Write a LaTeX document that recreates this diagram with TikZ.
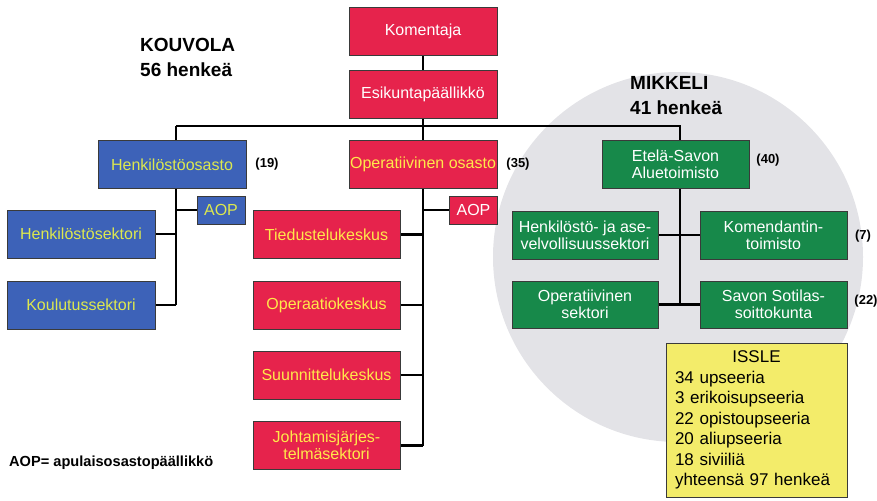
\documentclass[tikz,border=0pt]{standalone}
\usepackage{fontspec}
\setmainfont{Liberation Sans}
\usetikzlibrary{backgrounds}
\definecolor{cred}{HTML}{E6234C}
\definecolor{cblue}{HTML}{3D62B8}
\definecolor{cgreen}{HTML}{17894A}
\definecolor{cyelbox}{HTML}{F3EC6A}
\definecolor{ctxtY}{HTML}{FFE94A}
\definecolor{ctxtYG}{HTML}{DDE84E}
\definecolor{cgray}{HTML}{E3E3E7}
\definecolor{cedge}{HTML}{3A3A3A}
\begin{document}
\begin{tikzpicture}[x=1pt,y=-1pt,
 box/.style={draw=cedge,line width=0.8pt,minimum width=148pt,minimum height=48pt,inner sep=0pt,align=center,font=\fontsize{16}{17}\selectfont},
 redbox/.style={box,fill=cred,text=white},
 redboxY/.style={box,fill=cred,text=ctxtY},
 bluebox/.style={box,fill=cblue,text=ctxtYG},
 greenbox/.style={box,fill=cgreen,text=white,minimum width=146pt},
 aopbox/.style={box,minimum width=48pt,minimum height=28pt},
 conn/.style={line width=2.8pt,black},
 count/.style={inner sep=0pt,font=\bfseries\fontsize{13}{15}\selectfont},
 title/.style={inner sep=0pt,font=\bfseries\fontsize{19}{25}\selectfont,align=left}]
\useasboundingbox (0,0) rectangle (877,500);
% top
\node[redbox] (kom) at (423,31) {Komentaja};
\node[redbox] (esik) at (423,94) {Esikuntapäällikkö};
% departments
\node[bluebox] (hos) at (172,164.5) {Henkilöstöosasto};
\node[redboxY] (opos) at (423,164.5) {Operatiivinen osasto};
\node[greenbox,minimum width=147pt] (etela) at (675.5,164) {Etelä-Savon\\Aluetoimisto};
\node[aopbox,fill=cblue,text=ctxtYG] (aop1) at (221,210) {AOP};
\node[aopbox,fill=cred,text=white] (aop2) at (473.5,210) {AOP};
% Kouvola left
\node[bluebox] (hsek) at (81,234) {Henkilöstösektori};
\node[bluebox] (koul) at (81,305) {Koulutussektori};
% operative
\node[redboxY,minimum width=147pt] (tied) at (326.5,234.5) {Tiedustelukeskus};
\node[redboxY,minimum width=147pt] (oper) at (326.5,305) {Operaatiokeskus};
\node[redboxY,minimum width=147pt] (suun) at (326.5,375) {Suunnittelukeskus};
\node[redboxY,minimum width=147pt] (joht) at (326.5,445.5) {Johtamisjärjes-\\telmäsektori};
% Mikkeli
\node[greenbox] (hja) at (585,235) {Henkilöstö- ja ase-\\velvollisuussektori};
\node[greenbox,minimum width=147pt] (komd) at (773.5,235) {Komendantin-\\toimisto};
\node[greenbox,minimum height=47pt] (opsek) at (585,304.5) {Operatiivinen\\sektori};
\node[greenbox,minimum width=147pt,minimum height=47pt] (savon) at (773.5,304.5) {Savon Sotilas-\\soittokunta};
% counts
\node[count] (c19) at (267,164) {(19)};
\node[count] (c35) at (518,164) {(35)};
\node[count] (c40) at (768,160) {(40)};
\node[count] (c7) at (863,236) {(7)};
\node[count] (c22) at (866,301) {(22)};
% titles
\node[title,anchor=west] (kouv) at (140,57.5) {KOUVOLA\\56 henkeä};
\node[title,anchor=west] (mikk) at (630,95.5) {MIKKELI\\41 henkeä};
\node[inner sep=0pt,anchor=west,font=\bfseries\fontsize{14.6}{16}\selectfont] (legend) at (9,463) {AOP= apulaisosastopäällikkö};
% ISSLE
\node[draw=cedge,line width=0.8pt,fill=cyelbox,minimum width=181pt,minimum height=154pt,inner sep=0pt,text width=163pt,align=left,font=\fontsize{17}{20.5}\selectfont] (issle) at (756.5,420)
 {\makebox[163pt][c]{ISSLE}\\34 upseeria\\3 erikoisupseeria\\22 opistoupseeria\\20 aliupseeria\\18 siviiliä\\yhteensä 97 henkeä};
% connectors
\coordinate (hb) at (176,126);
\coordinate (he) at (176,305);
\coordinate (eb) at (680,126);
\coordinate (ee) at (680,304.5);
\coordinate (oe) at (423,445.5);
\begin{scope}[on background layer]
\fill[cgray] (678,257) circle[radius=185];
\draw[conn] (kom.south) -- (oe);
\draw[conn] (hb) -- (eb) -- (ee);
\draw[conn] (hb) -- (he);
\draw[conn] (aop1.west) -- (aop1.west -| hb);
\draw[conn] (hsek.east) -- (hsek.east -| hb);
\draw[conn] (koul.east) -- (koul.east -| hb);
\draw[conn] (aop2.west) -- (aop2.west -| oe);
\draw[conn] (tied.east) -- (tied.east -| oe);
\draw[conn] (oper.east) -- (oper.east -| oe);
\draw[conn] (suun.east) -- (suun.east -| oe);
\draw[conn] (joht.east) -- (joht.east -| oe);
\draw[conn] (hja.east) -- (komd.west);
\draw[conn] (opsek.east) -- (savon.west);
\end{scope}
\end{tikzpicture}
\end{document}
